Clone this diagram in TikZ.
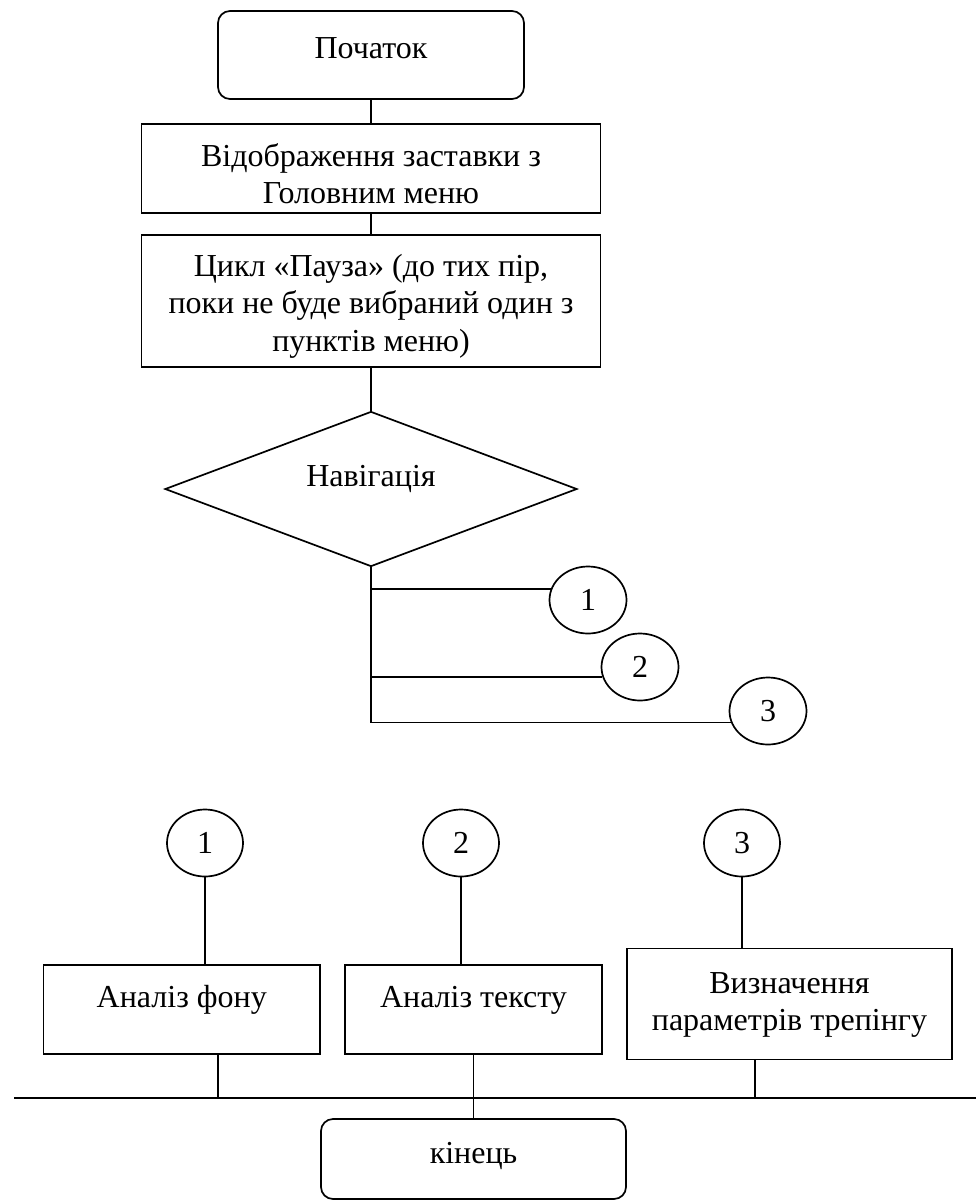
\documentclass[tikz,border=0pt]{standalone}
\usepackage{fontspec}
\setmainfont{Liberation Serif}
\usetikzlibrary{shapes.geometric}
\begin{document}
\begin{tikzpicture}[x=1pt,y=-1pt,
  every node/.style={font=\fontsize{32}{37}\selectfont},
  line/.style={line width=1.7pt},
  termbox/.style={draw, line width=1.7pt, rounded corners=12pt, inner sep=0pt},
  procbox/.style={draw, line width=1.7pt, inner sep=0pt, align=center},
  decbox/.style={draw, line width=1.7pt, diamond, inner sep=0pt},
  conn/.style={draw, line width=1.7pt, ellipse, inner sep=0pt, minimum width=77pt, minimum height=67pt},
  txt/.style={inner sep=0pt, align=center}]
\useasboundingbox (0,0) rectangle (976,1203);
% top part
\node[termbox, minimum width=306pt, minimum height=88pt] (start) at (371,55) {};
\node[txt] (tstart) at (371,48) {Початок};
\node[procbox, minimum width=459pt, minimum height=89pt] (show) at (371,168.5) {};
\node[txt] (tshow) at (371,174) {Відображення заставки з\\Головним меню};
\node[procbox, minimum width=459pt, minimum height=132pt] (pause) at (371,301) {};
\node[txt, font=\fontsize{32}{37.5}\selectfont] (tpause) at (371,306) {Цикл «Пауза» (до тих пір,\\поки не буде вибраний один з\\пунктів меню)};
\node[decbox, minimum width=412pt, minimum height=155pt] (nav) at (371,489) {};
\node[txt] (tnav) at (371,479) {Навігація};
\node[conn] (c1) at (588,600) {1};
\node[conn] (c2) at (640,667) {2};
\node[conn] (c3) at (768,711) {3};
\draw[line] (start.south) -- (show.north);
\draw[line] (show.south) -- (pause.north);
\draw[line] (pause.south) -- (nav.north);
\draw[line] (nav.south) -- (c3.197 -| nav.south) -- (c3.197);
\draw[line] (c1.163 -| nav.south) -- (c1.163);
\draw[line] (c2.195 -| nav.south) -- (c2.195);
% bottom part
\node[conn, minimum width=76pt] (d1) at (205,843) {1};
\node[conn, minimum width=76pt] (d2) at (461,843) {2};
\node[conn, minimum width=76pt] (d3) at (742,843) {3};
\node[procbox, minimum width=276.5pt, minimum height=89pt] (fon) at (181.75,1009.5) {};
\node[txt] (tfon) at (181.75,1000) {Аналіз фону};
\node[procbox, minimum width=257pt, minimum height=89pt] (tekst) at (473.5,1009.5) {};
\node[txt] (ttekst) at (473.5,1000) {Аналіз тексту};
\node[procbox, minimum width=325pt, minimum height=111pt] (param) at (789.5,1004) {};
\node[txt] (tparam) at (789.5,1005) {Визначення\\параметрів трепінгу};
\node[termbox, minimum width=305pt, minimum height=80pt] (fin) at (473.5,1159) {};
\node[txt] (tfin) at (473.5,1156) {кінець};
\coordinate (busL) at (14,1098);
\coordinate (busR) at (976,1098);
\draw[line] (d1.south) -- (d1.south |- fon.north);
\draw[line] (d2.south) -- (d2.south |- tekst.north);
\draw[line] (d3.south) -- (d3.south |- param.north);
\draw[line] (busL) -- (busR);
\draw[line] ([xshift=36.25pt]fon.south) -- ([xshift=36.25pt]fon.south |- busL);
\draw[line] ([xshift=-34.5pt]param.south) -- ([xshift=-34.5pt]param.south |- busL);
\draw[line] (tekst.south) -- (fin.north);
\end{tikzpicture}
\end{document}
